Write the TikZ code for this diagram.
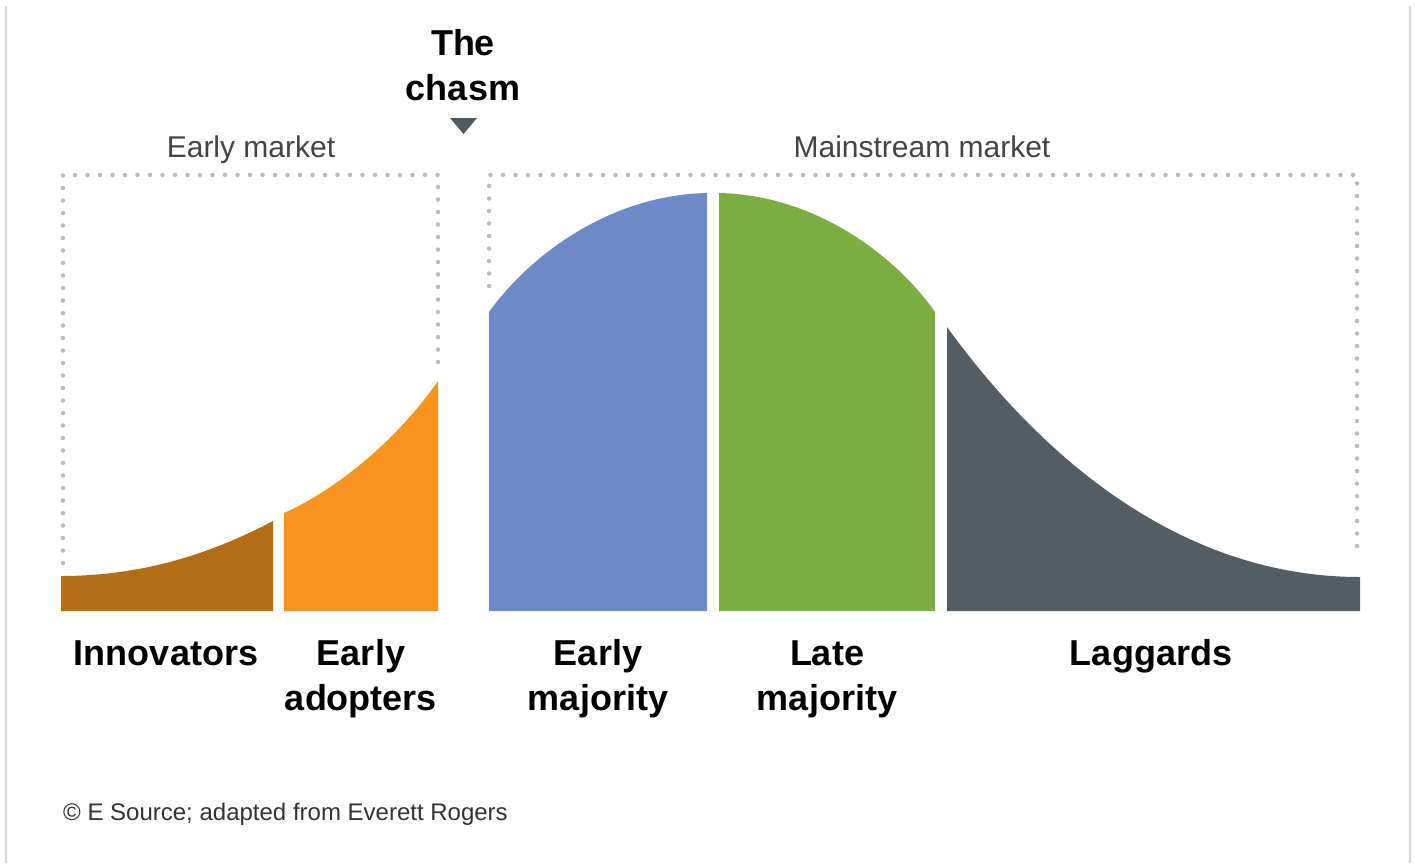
\documentclass[tikz,border=0pt]{standalone}
\usepackage{fontspec}
\setmainfont{Liberation Sans}
\definecolor{cInno}{HTML}{B36D14}
\definecolor{cAdopt}{HTML}{F7941D}
\definecolor{cEarlyMaj}{HTML}{6C8AC5}
\definecolor{cLateMaj}{HTML}{7BAD41}
\definecolor{cLag}{HTML}{535E64}
\definecolor{cTri}{HTML}{4F5A61}
\definecolor{cDots}{HTML}{BBBBBB}
\definecolor{cFrame}{HTML}{D6D6D6}
\definecolor{cMarket}{HTML}{444444}
\definecolor{cCopy}{HTML}{333333}
\tikzset{
  dotbox/.style={draw=cDots, line width=4.5pt, line cap=round, dash pattern=on 0pt off 12.5pt},
  catlabel/.style={font=\fontsize{36}{45}\selectfont\bfseries, text=black, align=center, inner sep=0pt, anchor=base},
  marketlabel/.style={font=\fontsize{30}{36}\selectfont, text=cMarket, inner sep=0pt, anchor=base},
  framebar/.style={draw=cFrame, line width=1.5pt}
}
\begin{document}
\begin{tikzpicture}[x=1pt,y=-1pt]
\useasboundingbox (0,0) rectangle (1415,863);
\fill[white] (0,0) rectangle (1415,863);
% frame lines
\draw[framebar] (6,6) -- (6,863);
\draw[framebar] (1410,6) -- (1410,863);
% dotted market boxes
\draw[dotbox] (63,563) -- (63,175) -- (438,175) -- (438,363);
\draw[dotbox] (489,286) -- (489,175) -- (1357,175) -- (1357,557);
% curve segments
\fill[cInno] (61,611) -- (61,576) .. controls (150,576) and (220,549) .. (273,521) -- (273,611) -- cycle;
\fill[cAdopt] (284,611) -- (284,513) .. controls (325,495) and (390,450) .. (438,381) -- (438,611) -- cycle;
\fill[cEarlyMaj] (489,611) -- (489,312) .. controls (530,255) and (610,195) .. (707,193) -- (707,611) -- cycle;
\fill[cLateMaj] (719,611) -- (719,193) .. controls (815,195) and (895,255) .. (935,312) -- (935,611) -- cycle;
\fill[cLag] (947,611) -- (947,327) .. controls (1020,428) and (1160,577) .. (1360,577) -- (1360,611) -- cycle;
% chasm
\node[catlabel] (chasm) at (463,100) {The\\chasm};
\fill[cTri] (450,118) -- (477,118) -- (463.5,134) -- cycle;
% market labels
\node[marketlabel] (early) at (251,157) {Early market};
\node[marketlabel] (main) at (922,157) {Mainstream market};
% category labels
\node[catlabel] (inno) at (166,665) {Innovators};
\node[catlabel] (adopt) at (361,710) {Early\\adopters};
\node[catlabel] (emaj) at (598,710) {Early\\majority};
\node[catlabel] (lmaj) at (827,710) {Late\\majority};
\node[catlabel] (lag) at (1151,665) {Laggards};
% source
\node[font=\fontsize{24}{28}\selectfont, text=cCopy, inner sep=0pt, anchor=base west] (src) at (63,820) {© E Source; adapted from Everett Rogers};
\end{tikzpicture}
\end{document}
